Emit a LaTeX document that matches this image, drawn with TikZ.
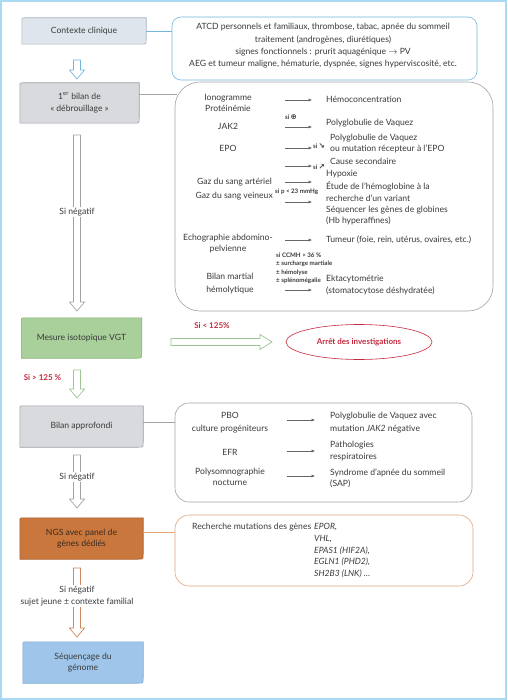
\documentclass[tikz,border=0pt]{standalone}
\usepackage{fontspec}
\setmainfont{Lato}
\newfontfamily\symfont{DejaVu Sans}
\usetikzlibrary{arrows.meta,calc,backgrounds,shapes.geometric}
\definecolor{txtc}{HTML}{3A3A3A}
\definecolor{framec}{HTML}{A9DAF2}
\definecolor{ctxfill}{HTML}{DEE5EC}
\definecolor{ctxdraw}{HTML}{A8B2BC}
\definecolor{grayfill}{HTML}{D8DADD}
\definecolor{graydraw}{HTML}{999DA2}
\definecolor{greenfill}{HTML}{A9CF9B}
\definecolor{greendraw}{HTML}{84B078}
\definecolor{orangefill}{HTML}{C9773D}
\definecolor{orangedraw}{HTML}{A95E2A}
\definecolor{bluefill}{HTML}{9FC6EA}
\definecolor{bluedraw}{HTML}{7AA8D0}
\definecolor{blueline}{HTML}{74B6DE}
\definecolor{grayline}{HTML}{A2A2A2}
\definecolor{greenline}{HTML}{9DC492}
\definecolor{orangeline}{HTML}{E2A47C}
\definecolor{orangearrow}{HTML}{C98A60}
\definecolor{redc}{HTML}{C62A3E}
\definecolor{ngstxt}{HTML}{3A2A20}
\newcommand\boxbg[2]{%
  \path[#2] (#1.south west) -- ($(#1.north west)+(0,3)$) .. controls (#1.north west) .. ($(#1.north west)+(3,0)$)
   -- (#1.north east) -- ($(#1.south east)+(0,-5)$) .. controls (#1.south east) .. ($(#1.south east)+(-5,0)$) -- cycle;}
\newcommand\blkdown[3]{%
  \draw[#3, line width=0.7pt, fill=white, line join=miter] ($(#1)+(-3.5,0)$) -- ($(#1)+(3.5,0)$) -- ($(#2)+(3.5,-9)$)
   -- ($(#2)+(7.5,-9)$) -- (#2) -- ($(#2)+(-7.5,-9)$) -- ($(#2)+(-3.5,-9)$) -- cycle;}
\newcommand\blkright[3]{%
  \draw[#3, line width=0.7pt, fill=white, line join=miter] ($(#1)+(0,-3.5)$) -- ($(#2)+(-12,-3.5)$) -- ($(#2)+(-12,-7.5)$)
   -- (#2) -- ($(#2)+(-12,7.5)$) -- ($(#2)+(-12,3.5)$) -- ($(#1)+(0,3.5)$) -- cycle;}
\begin{document}
\begin{tikzpicture}[x=1pt,y=-1pt,
  every node/.style={text=txtc, font=\fontsize{8.6}{11}\selectfont, inner sep=0pt},
  lbox/.style={align=center, minimum width=121, minimum height=41},
  rbox/.style={draw, line width=0.6pt, fill=white},
  cline/.style={line width=0.7pt},
  iarrow/.style={draw=gray!80!black, line width=0.5pt, -{Latex[length=3.4pt,width=3pt]}},
  small/.style={font=\fontsize{6.2}{8.2}\selectfont\bfseries},
  lab/.style={fill=white, inner sep=1.5pt},
  redtxt/.style={text=redc, font=\fontsize{8}{10}\selectfont\bfseries},
  rt/.style={anchor=west}]
\useasboundingbox (0,0) rectangle (507,700);
\begin{pgfonlayer}{background}
\draw[framec, line width=2pt, fill=white] (1.2,1.2) rectangle (505.8,698.8);
\end{pgfonlayer}

% ---------- left boxes
\node[lbox, minimum width=124, minimum height=26] (ctx) at (84,31) {Contexte clinique};
\node[lbox, minimum width=119, minimum height=40, font=\fontsize{8.6}{12.5}\selectfont] (b1) at (79.5,103) {1\textsuperscript{er} bilan de\\«~débrouillage~»};
\node[lbox, minimum width=120, minimum height=40] (vgt) at (81.5,338) {Mesure isotopique VGT};
\node[lbox, minimum width=123] (bap) at (81.5,426.5) {Bilan approfondi};
\node[lbox, minimum width=123, text=ngstxt] (ngs) at (81.5,538.5) {NGS avec panel de\\gènes dédiés};
\node[lbox, minimum width=120] (seq) at (83,662.5) {Séquençage du\\génome};
\begin{pgfonlayer}{background}
\boxbg{ctx}{fill=ctxfill, draw=ctxdraw, line width=0.6pt}
\boxbg{b1}{fill=grayfill, draw=graydraw, line width=0.6pt}
\boxbg{vgt}{fill=greenfill, draw=greendraw, line width=0.6pt}
\boxbg{bap}{fill=grayfill, draw=graydraw, line width=0.6pt}
\boxbg{ngs}{fill=orangefill, draw=orangedraw, line width=0.6pt}
\boxbg{seq}{fill=bluefill, draw=bluedraw, line width=0.6pt}
\end{pgfonlayer}

% ---------- right boxes
\node[rbox, draw=blueline, rounded corners=9, minimum width=305, minimum height=63] (ctxr) at (324.5,48.5) {};
\node[align=center, font=\fontsize{8.6}{12.3}\selectfont] (ctxt) at (323,46) {ATCD personnels et familiaux, thrombose, tabac, apnée du sommeil\\traitement (androgènes, diurétiques)\\signes fonctionnels~: prurit aquagénique $\rightarrow$ PV\\AEG et tumeur maligne, hématurie, dyspnée, signes hyperviscosité, etc.};
\node[rbox, draw=grayline, rounded corners=25, minimum width=318, minimum height=229] (big) at (334,196.5) {};
\node[rbox, draw=grayline, rounded corners=14, minimum width=297, minimum height=99] (box3) at (323.5,452.5) {};
\node[rbox, draw=orangeline, rounded corners=14, minimum width=298, minimum height=71] (box4) at (324,550.5) {};

% ---------- connectors
\draw[cline, blueline] (ctx.east) -- (ctxr.west |- ctx.east);
\coordinate (bigin) at (177,94);
\draw[cline, grayline] (b1.east |- bigin) -- (bigin);
\coordinate (c3) at ($(box3.north west)+(0,20)$);
\draw[cline, grayline] (bap.east |- c3) -- (c3);
\coordinate (c4) at ($(box4.north west)+(0,18)$);
\draw[cline, orangeline] (ngs.east |- c4) -- (c4);

% ---------- block arrows
\coordinate (a1s) at (77,60);  \coordinate (a1e) at (77,79);
\coordinate (a2s) at (77,135); \coordinate (a2e) at (77,311);
\coordinate (a3s) at (77,370); \coordinate (a3e) at (77,398);
\coordinate (a4s) at (77,455); \coordinate (a4e) at (77,508);
\coordinate (a5s) at (77,568); \coordinate (a5e) at (77,637);
\coordinate (rs) at (171,342); \coordinate (re) at (272,342);
\blkdown{a1s}{a1e}{blueline}
\blkdown{a2s}{a2e}{grayline}
\blkdown{a3s}{a3e}{greenline}
\blkdown{a4s}{a4e}{grayline}
\blkdown{a5s}{a5e}{orangearrow}
\blkright{rs}{re}{greenline}
\node[lab] (sn1) at (77,212) {Si négatif};
\node[lab] (sn2) at (77,477) {Si négatif};
\node[lab, align=center, font=\fontsize{8.6}{12}\selectfont] (sn3) at (77,596) {Si négatif\\sujet jeune ± contexte familial};
\node[redtxt] (lt) at (212,326) {Si < 125\%};
\node[redtxt] (gt) at (42.5,378) {Si > 125 \%};
\node[ellipse, draw=redc, line width=0.6pt, minimum width=146, minimum height=35, redtxt] (stop) at (359,342) {Arrêt des investigations};

% ---------- big box content
\node[align=center] (iono) at (228,102.5) {Ionogramme\\Protéinémie};
\node (jak) at (228,126) {JAK2};
\node (epo) at (228,148) {EPO};
\node[anchor=east] (gsa) at (272,182) {Gaz du sang artériel};
\node[anchor=east] (gsv) at (273,196) {Gaz du sang veineux};
\node[align=center] (echo) at (228,243.5) {Echographie abdomino-\\pelvienne};
\node[align=center, font=\fontsize{8.6}{13}\selectfont] (bmh) at (230,283.5) {Bilan martial\\hémolytique};

\node[rt] (r1) at (326,99) {Hémoconcentration};
\node[rt] (r2) at (326,123) {Polyglobulie de Vaquez};
\node[rt] (r3) at (330,138) {Polyglobulie de Vaquez};
\node[rt] (r4) at (330,149) {ou mutation récepteur à l'EPO};
\node[rt] (r5) at (330,161) {Cause secondaire};
\node[rt] (r6) at (326,174) {Hypoxie};
\node[rt] (r7) at (326,186) {Étude de l'hémoglobine à la};
\node[rt] (r8) at (326,198) {recherche d'un variant};
\node[rt] (r9) at (326,210) {Séquencer les gènes de globines};
\node[rt] (r10) at (326,221) {(Hb hyperaffines)};
\node[rt] (r11) at (326,240) {Tumeur (foie, rein, utérus, ovaires, etc.)};
\node[rt] (r12) at (326,279) {Ektacytométrie};
\node[rt] (r13) at (326,291) {(stomatocytose déshydratée)};

\foreach \n/\y in {1/100,2/127,3/148,4/166,5/182,6/202,7/240,8/290}{
  \coordinate (i\n s) at (285,\y); \coordinate (i\n e) at (312,\y);
  \draw[iarrow] (i\n s) -- (i\n e);
}
\node[small, anchor=west] (sip) at (285,117) {si\,{\symfont\fontsize{7.5}{8}\selectfont ⊕}};
\node[small, anchor=west] (sid) at (313,146) {si\,{\symfont\bfseries\fontsize{7.5}{8}\selectfont ↘}};
\node[small, anchor=west] (siu) at (313,167) {si\,{\symfont\bfseries\fontsize{7.5}{8}\selectfont ↗}};
\node[small, anchor=west] (sip23) at (275,192) {si p < 23 mmHg};
\node[small, anchor=north west, align=left] (sic) at (276,253) {si CCMH > 36 \%\\± surcharge martiale\\± hémolyse\\± splénomégalie};

% ---------- box 3 content
\node[align=center, font=\fontsize{8.6}{13}\selectfont] (pbo) at (230,422.5) {PBO\\culture progéniteurs};
\node (efr) at (230,452) {EFR};
\node[align=center] (psg) at (230,477) {Polysomnographie\\nocturne};
\node[rt, align=left, font=\fontsize{8.6}{13}\selectfont] (pv2) at (330,422.5) {Polyglobulie de Vaquez avec\\mutation \textit{JAK2} négative};
\node[rt, align=left, font=\fontsize{8.6}{12}\selectfont] (patho) at (330,451) {Pathologies\\respiratoires};
\node[rt, align=left] (sas) at (330,478) {Syndrome d'apnée du sommeil\\(SAP)};
\foreach \n/\y in {1/420,2/451,3/476}{
  \coordinate (j\n s) at (287,\y); \coordinate (j\n e) at (315,\y);
  \draw[iarrow] (j\n s) -- (j\n e);
}

% ---------- box 4 content
\node[rt] (rech) at (192,527) {Recherche mutations des gènes};
\node[rt, xshift=2.5pt] (g1) at (rech.east) {\textit{EPOR,}};
\node[rt] (g2) at ($(g1.west)+(0,11.7)$) {\textit{VHL,}};
\node[rt] (g3) at ($(g1.west)+(0,23.4)$) {\textit{EPAS1 (HIF2A),}};
\node[rt] (g4) at ($(g1.west)+(0,35.1)$) {\textit{EGLN1 (PHD2),}};
\node[rt] (g5) at ($(g1.west)+(0,46.8)$) {\textit{SH2B3 (LNK) …}};
\end{tikzpicture}
\end{document}
